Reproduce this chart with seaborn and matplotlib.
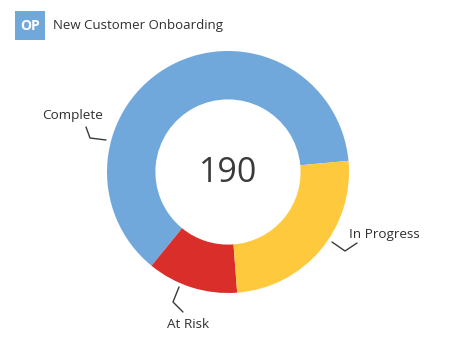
import matplotlib
matplotlib.use("Agg")
import matplotlib.pyplot as plt
import seaborn as sns
from matplotlib.patches import Rectangle

categories = ["Complete", "At Risk", "In Progress"]
values = [119, 23, 48]
colors_hex = ["#70a8dc", "#da2e2a", "#ffc93e"]
title = "New Customer Onboarding"
badge = "OP"
total_label = str(sum(values))

sns.set_theme(style="white")
plt.rcParams["font.family"] = ["Open Sans", "DejaVu Sans"]
palette = sns.color_palette(colors_hex)

W, H = 450, 338
fig = plt.figure(figsize=(W / 100, H / 100), dpi=100)
ax = fig.add_axes([0, 0, 1, 1])

cx, cy, r = 228, H - 172, 121
ax.pie(values, colors=palette, startangle=5.3, counterclock=True,
       center=(cx, cy), radius=r,
       wedgeprops=dict(width=r * 0.4, linewidth=0))
ax.set_xlim(0, W)
ax.set_ylim(0, H)
ax.set_aspect("auto")
ax.axis("off")

def Y(y):
    return H - y

ax.text(cx, Y(182), total_label, ha="center", va="baseline", fontsize=24.5, color="#3a3a3a")

txt_color = "#2f2f2f"
line_color = "#3a3a3a"

# Complete
ax.text(73, Y(119), categories[0], ha="center", va="baseline", fontsize=9.7, color=txt_color)
ax.plot([86, 90, 106], [Y(127), Y(138), Y(140)], color=line_color, lw=1)
# In Progress
ax.text(349, Y(238), categories[2], ha="left", va="baseline", fontsize=9.7, color=txt_color)
ax.plot([332, 345, 357], [Y(242), Y(251), Y(243)], color=line_color, lw=1)
# At Risk
ax.text(188, Y(328), categories[1], ha="center", va="baseline", fontsize=9.7, color=txt_color)
ax.plot([179, 173, 183], [Y(287), Y(302), Y(312)], color=line_color, lw=1)

# title badge
ax.add_patch(Rectangle((15, Y(40)), 30, 29, facecolor=colors_hex[0], edgecolor="none"))
ax.text(30, Y(29.5), badge, ha="center", va="baseline", fontsize=10, color="white", fontweight="bold")
ax.text(53, Y(29), title, ha="left", va="baseline", fontsize=9.5, color=txt_color)

fig.savefig("out.png", dpi=100, facecolor="white")
